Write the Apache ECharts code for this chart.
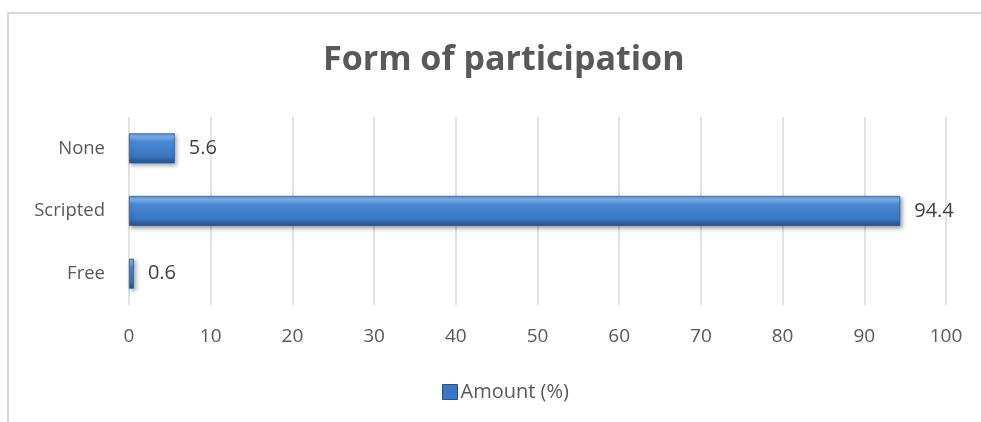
<!DOCTYPE html>
<html>
<head>
<meta charset="utf-8">
<script src="https://cdn.jsdelivr.net/npm/echarts@6/dist/echarts.min.js"></script>
<style>
  html, body { margin: 0; padding: 0; background: #ffffff; }
  #chart { width: 981px; height: 422px; }
</style>
</head>
<body>
<div id="chart"></div>
<script>
// Participation categories (bottom to top) and their share in percent
const categories = ['Free', 'Scripted', 'None'];
const amounts = [0.6, 94.4, 5.6];
const seriesName = 'Amount (%)';
const titleText = 'Form of participation';

const chart = echarts.init(document.getElementById('chart'));

// Bevelled blue bar fill
const barFill = new echarts.graphic.LinearGradient(0, 0, 0, 1, [
  { offset: 0, color: '#5b98e0' },
  { offset: 0.12, color: '#7cb2ec' },
  { offset: 0.28, color: '#4a89d6' },
  { offset: 0.75, color: '#3b77c3' },
  { offset: 1, color: '#25508a' }
]);

const textColor = '#595959';
const fontFamily = '"Open Sans", "Noto Sans", sans-serif';

chart.setOption({
  backgroundColor: '#ffffff',
  animation: false,
  textStyle: { fontFamily: fontFamily },
  graphic: [{
    type: 'rect',
    shape: { x: 8, y: 13, width: 1000, height: 500 },
    style: { fill: 'none', stroke: '#d9d9d9', lineWidth: 2 },
    silent: true
  }],
  title: {
    text: titleText,
    left: 318,
    top: 38,
    textStyle: { color: textColor, fontSize: 34, fontWeight: 'bold', fontFamily: fontFamily }
  },
  legend: {
    data: [{ name: seriesName, icon: 'rect', itemStyle: { color: '#3a78c6', borderColor: '#25508a', borderWidth: 1 } }],
    left: 437,
    top: 377,
    itemWidth: 15,
    itemHeight: 15,
    itemGap: 10,
    textStyle: { color: textColor, fontSize: 20, fontFamily: fontFamily, padding: [0, 0, 0, -2] }
  },
  grid: { left: 129, right: 35, top: 117, bottom: 117, containLabel: false },
  xAxis: {
    type: 'value',
    min: 0,
    max: 100,
    interval: 10,
    axisLine: { show: false },
    axisTick: { show: false },
    splitLine: { show: true, lineStyle: { color: '#d9d9d9', width: 1.5 } },
    axisLabel: { color: textColor, fontSize: 19, margin: 22, fontFamily: fontFamily }
  },
  yAxis: {
    type: 'category',
    data: categories,
    axisLine: { show: false },
    axisTick: { show: false },
    axisLabel: { color: textColor, fontSize: 18.5, margin: 24, fontFamily: fontFamily }
  },
  series: [{
    name: seriesName,
    type: 'bar',
    data: amounts,
    barWidth: 30,
    itemStyle: {
      color: barFill,
      borderColor: '#2a5c9c',
      borderWidth: 0.8,
      shadowColor: 'rgba(0,0,0,0.35)',
      shadowBlur: 4,
      shadowOffsetX: 2,
      shadowOffsetY: 2
    },
    label: {
      show: true,
      position: 'right',
      distance: 14,
      color: '#404040',
      fontSize: 20,
      fontFamily: fontFamily
    }
  }]
});
</script>
</body>
</html>
